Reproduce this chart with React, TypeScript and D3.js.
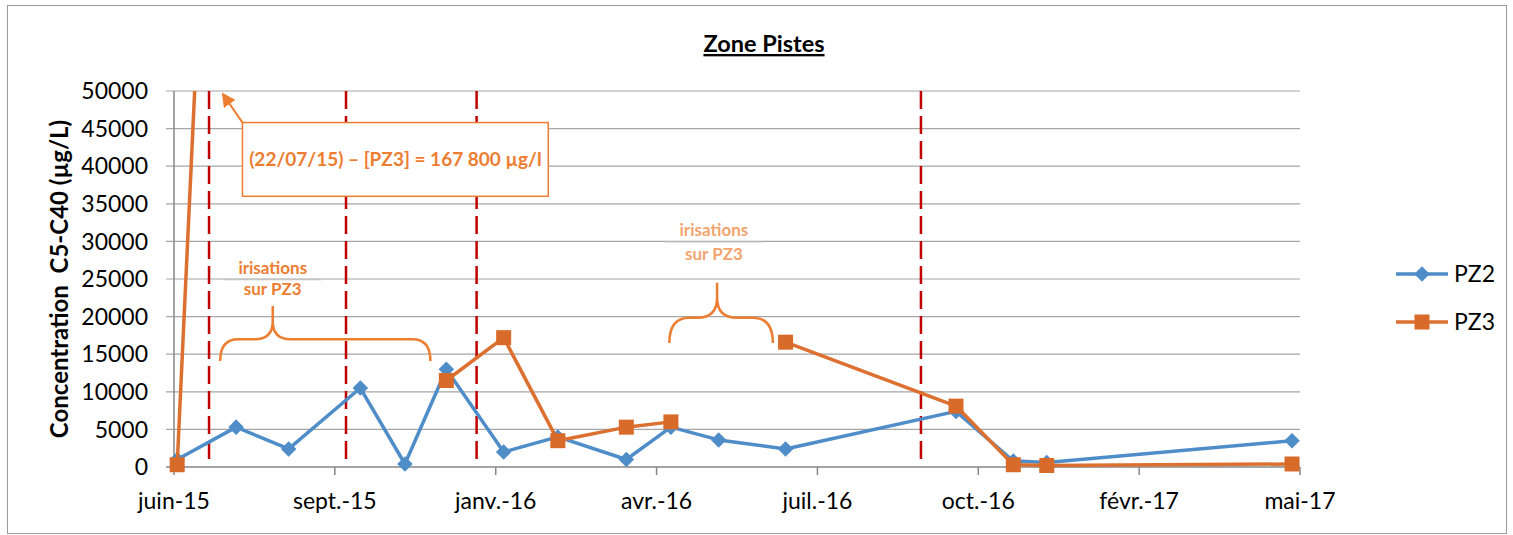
import React, { useEffect, useRef } from "react";
import * as d3 from "d3";

const parse = d3.utcParse("%Y-%m-%d");

// sampling dates
const sampleDates = [
  "2015-06-15", "2015-07-22", "2015-08-24", "2015-10-08", "2015-11-05", "2015-12-01",
  "2016-01-06", "2016-02-09", "2016-03-23", "2016-04-20", "2016-05-20", "2016-07-01",
  "2016-10-16", "2016-11-21", "2016-12-12", "2017-05-15",
];
const pz2Values = [1000, 5300, 2400, 10500, 400, 13000, 2000, 4000, 1000, 5300, 3600, 2400, 7400, 800, 600, 3500];
const pz3Values = [300, 167800, null, null, null, 11500, 17200, 3500, 5300, 6000, null, 16600, 8100, 300, 200, 400];

// date axis: Excel major unit of 101 days
const axisDates = ["2015-06-13", "2015-09-22", "2016-01-01", "2016-04-11", "2016-07-21", "2016-10-30", "2017-02-08", "2017-05-20"];
const axisLabels = ["juin-15", "sept.-15", "janv.-16", "avr.-16", "juil.-16", "oct.-16", "févr.-17", "mai-17"];
const yTicks = [0, 5000, 10000, 15000, 20000, 25000, 30000, 35000, 40000, 45000, 50000];

// red dashed separators
const dashedDates = ["2015-07-05", "2015-09-29", "2015-12-20", "2016-09-24"];

const seriesNames = ["PZ2", "PZ3"];
const blue = "#4F8DC9";
const orange = "#DC7030";
const orangeMarker = "#D86A2A";
const noteOrange = "#ED7D31";
const font = "Lato, 'Open Sans', sans-serif";

export default function App() {
  const ref = useRef<SVGSVGElement>(null);

  useEffect(() => {
    const svg = d3.select(ref.current);
    svg.selectAll("*").remove();

    const left = 174, right = 1300, top = 91, bottom = 467;

    const x = d3.scaleUtc()
      .domain([parse(axisDates[0])!, parse(axisDates[axisDates.length - 1])!])
      .range([left, right]);
    const y = d3.scaleLinear().domain([0, 50000]).range([bottom, top]);

    // outer frame
    svg.append("rect")
      .attr("x", 7.5).attr("y", 5.5).attr("width", 1499).attr("height", 528)
      .attr("fill", "#fff").attr("stroke", "#9a9a9a");

    svg.append("text")
      .attr("x", 764).attr("y", 52)
      .attr("text-anchor", "middle")
      .attr("font-family", font).attr("font-weight", "bold").attr("font-size", 23.5)
      .attr("text-decoration", "underline")
      .text("Zone Pistes");

    // gridlines + y labels
    const g = svg.append("g");
    yTicks.forEach((t) => {
      g.append("line")
        .attr("x1", left - 8).attr("x2", right)
        .attr("y1", y(t)).attr("y2", y(t))
        .attr("stroke", t === 0 ? "#868686" : "#a6a6a6").attr("stroke-width", t === 0 ? 1.5 : 1.2);
      g.append("text")
        .attr("x", 148).attr("y", y(t)).attr("dy", "0.36em")
        .attr("text-anchor", "end")
        .attr("font-family", font).attr("font-size", 23)
        .text(t);
    });
    g.append("line")
      .attr("x1", left).attr("x2", left).attr("y1", top).attr("y2", bottom)
      .attr("stroke", "#868686").attr("stroke-width", 1.5);

    axisDates.forEach((d, i) => {
      const xx = x(parse(d)!);
      g.append("line")
        .attr("x1", xx).attr("x2", xx).attr("y1", bottom).attr("y2", bottom + 8)
        .attr("stroke", "#868686").attr("stroke-width", 1.5);
      g.append("text")
        .attr("x", xx).attr("y", 509)
        .attr("text-anchor", "middle")
        .attr("font-family", font).attr("font-size", 23)
        .text(axisLabels[i]);
    });

    // dashed vertical lines
    dashedDates.forEach((d) => {
      svg.append("line")
        .attr("x1", x(parse(d)!)).attr("x2", x(parse(d)!))
        .attr("y1", y(50000)).attr("y2", y(400))
        .attr("stroke", "#C00000").attr("stroke-width", 2.5)
        .attr("stroke-dasharray", "18,7");
    });

    svg.append("clipPath").attr("id", "plot-clip")
      .append("rect").attr("x", left - 10).attr("y", top).attr("width", right - left + 20).attr("height", bottom - top + 12);

    const rows = sampleDates.map((d, i) => ({ date: parse(d)!, pz2: pz2Values[i], pz3: pz3Values[i] }));

    const plot = svg.append("g").attr("clip-path", "url(#plot-clip)");

    const line2 = d3.line<any>().x((d) => x(d.date)).y((d) => y(d.pz2));
    const line3 = d3.line<any>().defined((d) => d.pz3 != null).x((d) => x(d.date)).y((d) => y(d.pz3));

    plot.append("path").datum(rows).attr("d", line2)
      .attr("fill", "none").attr("stroke", blue).attr("stroke-width", 3.5).attr("stroke-linejoin", "round");
    plot.selectAll(".pz2").data(rows).join("path")
      .attr("transform", (d) => `translate(${x(d.date)},${y(d.pz2)}) rotate(45)`)
      .attr("d", "M-5.5,-5.5H5.5V5.5H-5.5Z").attr("fill", blue);

    plot.append("path").datum(rows).attr("d", line3)
      .attr("fill", "none").attr("stroke", orange).attr("stroke-width", 3.5).attr("stroke-linejoin", "round");
    plot.selectAll(".pz3").data(rows.filter((d) => d.pz3 != null)).join("rect")
      .attr("x", (d) => x(d.date) - 7.5).attr("y", (d) => y(d.pz3 as number) - 7.5)
      .attr("width", 15).attr("height", 15).attr("fill", orangeMarker);

    // annotation box with arrow to the off-scale PZ3 value
    const defs = svg.append("defs");
    defs.append("marker").attr("id", "arrow")
      .attr("viewBox", "0 0 10 10").attr("refX", 8).attr("refY", 5)
      .attr("markerWidth", 7).attr("markerHeight", 7).attr("orient", "auto")
      .append("path").attr("d", "M0,0L10,5L0,10Z").attr("fill", noteOrange);

    const bx1 = x(parse("2015-07-26")!), bx2 = x(parse("2016-02-03")!);
    const by1 = y(45800), by2 = y(36000);
    svg.append("line")
      .attr("x1", bx1).attr("y1", by1)
      .attr("x2", x(parse("2015-07-14")!)).attr("y2", y(49500))
      .attr("stroke", noteOrange).attr("stroke-width", 2).attr("marker-end", "url(#arrow)");
    svg.append("rect")
      .attr("x", bx1).attr("y", by1).attr("width", bx2 - bx1).attr("height", by2 - by1)
      .attr("fill", "#fff").attr("stroke", noteOrange).attr("stroke-width", 1.5);
    svg.append("text")
      .attr("x", (bx1 + bx2) / 2).attr("y", (by1 + by2) / 2).attr("dy", "0.35em")
      .attr("text-anchor", "middle")
      .attr("font-family", font).attr("font-weight", "bold").attr("font-size", 19)
      .attr("fill", noteOrange)
      .text("(22/07/15) – [PZ3] = 167 800 µg/l");

    // curly braces "irisations sur PZ3"
    const brace = (from: string, to: string, mid: string, yEnd: number, yH: number, yTop: number, r: number) => {
      const x1 = x(parse(from)!), x2 = x(parse(to)!), xm = x(parse(mid)!);
      const e = y(yEnd), h = y(yH), t = y(yTop);
      const p = `M${x1},${e}Q${x1},${h} ${x1 + r},${h}L${xm - r},${h}Q${xm},${h} ${xm},${h - r}L${xm},${t}` +
        `M${xm},${h - r}Q${xm},${h} ${xm + r},${h}L${x2 - r},${h}Q${x2},${h} ${x2},${e}`;
      svg.append("path").attr("d", p).attr("fill", "none").attr("stroke", noteOrange).attr("stroke-width", 2.5);
    };
    const note = (at: string, y1: number, y2: number, ySep: number, color: string) => {
      const cx = x(parse(at)!);
      svg.append("line")
        .attr("x1", cx - 49).attr("x2", cx + 49).attr("y1", y(ySep)).attr("y2", y(ySep))
        .attr("stroke", "#bfbfbf").attr("stroke-width", 1.2);
      [["irisations", y1], ["sur PZ3", y2]].forEach(([s, v]) => {
        svg.append("text")
          .attr("x", cx).attr("y", y(v as number)).attr("dy", "0.35em")
          .attr("text-anchor", "middle")
          .attr("font-family", font).attr("font-weight", "bold").attr("font-size", 17)
          .attr("fill", color)
          .text(s as string);
      });
    };
    brace("2015-07-12", "2015-11-21", "2015-08-14", 14100, 17000, 21400, 18);
    note("2015-08-14", 26500, 23700, 24900, noteOrange);
    brace("2016-04-19", "2016-06-23", "2016-05-19", 16500, 19850, 24500, 20);
    note("2016-05-17", 31550, 28360, 29950, "#F2A46E");

    // legend
    seriesNames.forEach((name, i) => {
      const ly = 274 + i * 48;
      const lg = svg.append("g");
      lg.append("line").attr("x1", 1396).attr("x2", 1448).attr("y1", ly).attr("y2", ly)
        .attr("stroke", i === 0 ? blue : orange).attr("stroke-width", 3.5);
      if (i === 0) {
        lg.append("path").attr("transform", `translate(1422,${ly}) rotate(45)`)
          .attr("d", "M-5.5,-5.5H5.5V5.5H-5.5Z").attr("fill", blue);
      } else {
        lg.append("rect").attr("x", 1414.5).attr("y", ly - 7.5).attr("width", 15).attr("height", 15).attr("fill", orangeMarker);
      }
      lg.append("text").attr("x", 1454).attr("y", ly).attr("dy", "0.36em")
        .attr("font-family", font).attr("font-size", 23).text(name);
    });

    // y axis title
    svg.append("text")
      .attr("transform", `translate(68,${(top + bottom) / 2}) rotate(-90)`)
      .attr("text-anchor", "middle")
      .attr("font-family", font).attr("font-weight", "bold").attr("font-size", 24)
      .style("white-space", "pre")
      .text("Concentration  C5-C40 (µg/L)");
  }, []);

  return (
    <svg ref={ref} width={1513} height={535} style={{ position: "absolute", left: 0, top: 0, display: "block" }} />
  );
}
